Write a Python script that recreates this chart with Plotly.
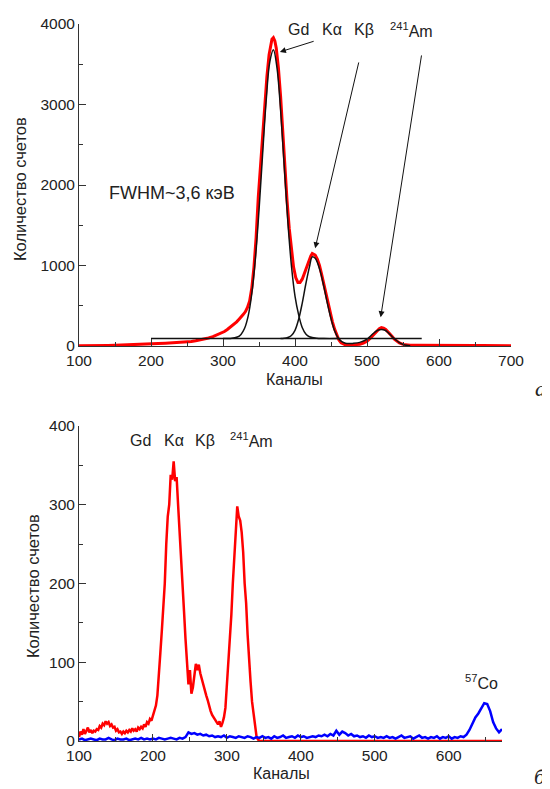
import plotly.graph_objects as go

# ---------------- Panel a (top) ----------------
top_ch = [100, 110, 120, 130, 140, 150, 160, 170, 180, 190, 200, 210, 220, 230, 240, 250, 256, 262, 268, 274,
          280, 286, 292, 298, 302, 306, 310, 313, 316, 319, 322, 325, 328, 331, 334, 337, 340, 343, 346, 349,
          352, 355, 358, 361, 364, 366, 368, 370, 372, 374, 377, 380, 383, 386, 389, 392, 395, 398, 401, 404,
          407, 410, 413, 416, 419, 422, 424, 426, 428, 431, 434, 437, 440, 443, 446, 449, 452, 455, 458, 461,
          464, 467, 470, 475, 480, 485, 490, 495, 500, 505, 510, 514, 517, 520, 523, 526, 529, 532, 535, 538,
          541, 545, 550, 555, 560, 570, 580, 590, 600, 610, 620, 630, 640, 650, 660, 670, 680, 690, 700]
top_counts = [4, 3, 5, 6, 7, 9, 11, 14, 17, 21, 26, 30, 35, 40, 46, 52, 56, 66, 76, 88,
              100, 116, 138, 160, 180, 205, 235, 250, 275, 300, 330, 355, 390, 425, 480, 560, 720, 980, 1350, 1850,
              2250, 2650, 3000, 3350, 3620, 3740, 3810, 3830, 3790, 3700, 3450, 3100, 2650, 2150, 1800, 1460, 1180, 980, 850, 790,
              790, 830, 900, 980, 1060, 1120, 1150, 1140, 1130, 1080, 1000, 890, 770, 650, 520, 410, 300, 210, 130, 75,
              40, 22, 14, 10, 12, 15, 22, 35, 60, 100, 150, 195, 215, 228, 222, 205, 180, 150, 118, 85,
              60, 38, 20, 12, 9, 8, 9, 8, 10, 9, 10, 9, 8, 7, 6, 5, 5, 4, 4]

# fitted Gd K-alpha component
fit1_ch = [300, 310, 320, 325, 330, 335, 340, 345, 350, 355, 360, 365, 370, 375, 380, 385, 390, 395, 400, 405,
           410, 415, 420, 430, 440, 460]
fit1_counts = [92, 94, 111, 144, 220, 374, 652, 1087, 1685, 2382, 3052, 3529, 3679, 3454, 2928, 2241, 1553, 1000, 620, 390,
               230, 150, 115, 95, 92, 92]
# fitted K-beta + 241Am components
fit2_ch = [380, 385, 390, 395, 400, 405, 410, 415, 420, 424, 428, 430, 435, 440, 445, 450, 455, 460, 465, 470,
           475, 480, 490, 500, 505, 510, 515, 520, 525, 530, 535, 540, 545, 550, 555, 560]
fit2_counts = [92, 95, 105, 130, 195, 330, 530, 770, 980, 1107, 1090, 1060, 930, 740, 530, 340, 190, 100, 55, 35,
               30, 32, 45, 85, 125, 165, 195, 205, 195, 160, 115, 75, 42, 20, 8, 2]
# fit baseline
base_ch = [200, 576]
base_counts = [92, 92]

# ---------------- Panel b (bottom) ----------------
bot_red_ch = list(range(100, 346, 2)) + [360, 672]
bot_red_counts = [5, 12, 8, 15, 9, 13, 17, 11, 14, 10, 13, 12, 15, 14, 19, 17, 22, 20, 25, 22,
                  24, 19, 21, 17, 18, 13, 15, 11, 12, 9, 12, 10, 13, 11, 14, 12, 16, 13, 15, 12,
                  17, 15, 18, 16, 21, 18, 24, 22, 28, 26, 33, 38, 45, 58, 80, 112, 140, 170, 200, 250,
                  285, 300, 338, 332, 355, 330, 335, 300, 270, 238, 200, 165, 130, 95, 72, 90, 60, 68, 88, 98,
                  90, 97, 86, 78, 72, 66, 58, 52, 44, 38, 33, 30, 26, 24, 21, 25, 18, 23, 30, 42,
                  70, 100, 130, 160, 200, 235, 260, 298, 285, 280, 265, 240, 200, 175, 135, 100, 75, 50, 35, 15,
                  6, 2, 0, 0, 0]
bot_blue_ch = list(range(100, 676, 4))
bot_blue_counts = [2, 3, 1, 2, 3, 2, 1, 3, 2, 2, 4, 2, 1, 3, 2, 2, 3, 1, 2, 3,
                   2, 4, 2, 3, 2, 3, 2, 4, 3, 2, 3, 4, 3, 2, 4, 3, 5, 11, 9, 10,
                   8, 9, 7, 8, 6, 7, 5, 6, 5, 7, 4, 6, 5, 4, 6, 5, 4, 6, 5, 3,
                   5, 4, 6, 4, 5, 3, 6, 4, 5, 7, 4, 5, 6, 4, 7, 5, 6, 4, 5, 6,
                   5, 7, 6, 8, 6, 9, 7, 13, 8, 12, 10, 7, 9, 6, 7, 5, 6, 4, 7, 5,
                   6, 4, 5, 4, 6, 4, 5, 3, 5, 7, 4, 5, 6, 3, 5, 7, 4, 5, 3, 5,
                   4, 6, 3, 5, 4, 6, 3, 5, 4, 6, 5, 8, 14, 22, 30, 35, 42, 48, 47, 38,
                   24, 16, 11, 15]

FONT = "Arial, 'Liberation Sans', sans-serif"
TXT = "#222222"

fig = go.Figure()
fig.add_trace(go.Scatter(x=top_ch, y=top_counts, mode="lines", line=dict(color="#ff0000", width=3),
                         xaxis="x", yaxis="y"))
fig.add_trace(go.Scatter(x=base_ch, y=base_counts, mode="lines", line=dict(color="#111111", width=1.5),
                         xaxis="x", yaxis="y"))
fig.add_trace(go.Scatter(x=fit1_ch, y=fit1_counts, mode="lines", line=dict(color="#111111", width=1.5, shape="spline"),
                         xaxis="x", yaxis="y"))
fig.add_trace(go.Scatter(x=fit2_ch, y=fit2_counts, mode="lines", line=dict(color="#111111", width=1.5, shape="spline"),
                         xaxis="x", yaxis="y"))
fig.add_trace(go.Scatter(x=bot_red_ch, y=bot_red_counts, mode="lines", line=dict(color="#ff0000", width=2.5),
                         xaxis="x2", yaxis="y2"))
fig.add_trace(go.Scatter(x=bot_blue_ch, y=bot_blue_counts, mode="lines", line=dict(color="#0000ff", width=2.5),
                         xaxis="x2", yaxis="y2"))

# the page body keeps an 8px margin, so the figure is drawn 8px smaller and all page
# coordinates below are measured in the 550x789 window and shifted by that offset
OFF = 8
W, H = 550 - OFF, 789 - OFF


def px(x):
    return (x - OFF) / W


def py(y):
    return 1 - (y - OFF) / H


axis_common = dict(showline=True, linecolor="#333333", linewidth=1, ticks="inside", ticklen=7, tickwidth=1,
                   tickcolor="#333333", showgrid=False, zeroline=False, mirror=False, automargin=False,
                   tickfont=dict(family=FONT, size=15.5, color=TXT))

fig.update_layout(
    width=W, height=H, margin=dict(l=0, r=0, t=0, b=0, pad=0, autoexpand=False), showlegend=False,
    plot_bgcolor="white", paper_bgcolor="white",
    xaxis=dict(domain=[px(79), px(511)], range=[100, 700], anchor="y", tick0=100, dtick=100,
               minor=dict(ticks="inside", ticklen=4, dtick=50, tickcolor="#333333"), **axis_common),
    yaxis=dict(domain=[py(346), py(24)], range=[0, 4000], anchor="x", tick0=0, dtick=1000,
               minor=dict(ticks="inside", ticklen=4, dtick=500, tickcolor="#333333"), **axis_common),
    xaxis2=dict(domain=[px(79), px(502)], range=[100, 672], anchor="y2", tick0=100, dtick=100,
                minor=dict(ticks="inside", ticklen=4, dtick=50, tickcolor="#333333"), **axis_common),
    yaxis2=dict(domain=[py(741), py(426)], range=[0, 400], anchor="x2", tick0=0, dtick=100,
                minor=dict(ticks="inside", ticklen=4, dtick=50, tickcolor="#333333"), **axis_common),
)

ann = []


def label(text, x, y, size=16, xanchor="left", angle=0, family=FONT):
    ann.append(dict(text=text, x=px(x), y=py(y), xref="paper", yref="paper", showarrow=False,
                    xanchor=xanchor, yanchor="middle", textangle=angle,
                    font=dict(family=family, size=size, color=TXT)))


# top panel texts
label("Gd", 286, 30)
label("Kα", 320, 30)
label("Kβ", 352, 30)
label("<sup>241</sup>Am", 388, 30)
label("FWHM~3,6 кэВ", 107, 193, size=18)
label("Каналы", 294, 379, xanchor="center")
label("Количество счетов", 20, 189, size=16.5, xanchor="center", angle=-90)
label("<i>a</i>", 540, 388, size=22, xanchor="center", family="'Liberation Serif', 'Times New Roman', serif")

# bottom panel texts
label("Gd", 128, 440)
label("Kα", 162, 440)
label("Kβ", 193, 440)
label("<sup>241</sup>Am", 228, 440)
label("<sup>57</sup>Co", 463, 682)
label("Каналы", 281, 773, xanchor="center")
label("Количество счетов", 33, 586, size=16.5, xanchor="center", angle=-90)
label("<i>б</i>", 540, 776, size=22, xanchor="center", family="'Liberation Serif', 'Times New Roman', serif")

# arrows (head at x,y; tail at ax,ay) in data coordinates of the top panel
arrows = [((379, 3653), (428, 3791)), ((428, 1215), (489, 3541)), ((519, 357), (576, 3628))]
for (hx, hy), (tx, ty) in arrows:
    ann.append(dict(x=hx, y=hy, ax=tx, ay=ty, xref="x", yref="y", axref="x", ayref="y", text="",
                    showarrow=True, arrowhead=2, arrowsize=1.2, arrowwidth=1, arrowcolor="#111111", standoff=0))

fig.update_layout(annotations=ann)
fig.write_html("out.html")
